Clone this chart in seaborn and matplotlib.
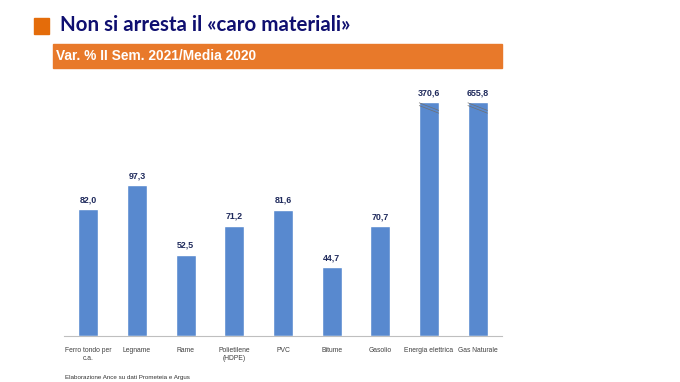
import numpy as np
import pandas as pd
import matplotlib.pyplot as plt
import seaborn as sns
from matplotlib.patches import Rectangle

# chart data
categories = ["Ferro tondo per\nc.a.", "Legname", "Rame", "Polietilene\n(HDPE)", "PVC",
              "Bitume", "Gasolio", "Energia elettrica", "Gas Naturale"]
values = [82.0, 97.3, 52.5, 71.2, 81.6, 44.7, 70.7, 370.6, 655.8]
title = "Non si arresta il «caro materiali»"
subtitle = "Var. % II Sem. 2021/Media 2020"
source = "Elaborazione Ance su dati Prometeia e Argus"

cap = 151  # broken-axis cap for the two tall bars
df = pd.DataFrame({"cat": categories, "val": values})
df["shown"] = np.minimum(df["val"], cap)

sns.set_style("white")
plt.rcParams['font.family'] = ['Liberation Sans', 'DejaVu Sans']

fig = plt.figure(figsize=(6.8, 3.82), dpi=100)
ax = fig.add_axes([64 / 680, 46 / 382, 438 / 680, 248 / 382])

bar_w = 0.41
sns.barplot(data=df, x="cat", y="shown", color="#5889CF", width=bar_w,
            saturation=1, ax=ax)
ax.set_xlim(-0.5, len(categories) - 0.5)
ax.set_ylim(0, 160)
ax.set_xlabel("")
ax.set_ylabel("")
ax.set_yticks([])
sns.despine(ax=ax, left=True)
ax.spines["bottom"].set_color("#BFBFBF")
ax.spines["bottom"].set_linewidth(0.8)
ax.tick_params(axis="x", length=0, labelsize=4.9, colors="#404040", pad=8)
for lab in ax.get_xticklabels():
    lab.set_linespacing(1.1)

# value labels
for i, (v, s) in enumerate(zip(df["val"], df["shown"])):
    ax.text(i, s + 3, f"{v:.1f}".replace(".", ","), ha="center", va="bottom",
            fontsize=6.4, fontweight="bold", color="#1F2A5C")
    if v > cap:
        for off in (0.5, 2.3):
            ax.plot([i - bar_w / 2, i + bar_w / 2], [cap - off, cap - 5 - off],
                    color="#707070", lw=0.5, solid_capstyle="butt")

# header
fig.patches.append(Rectangle((34 / 680, 1 - 34 / 382), 15 / 680, 16 / 382,
                             transform=fig.transFigure, color="#E46C0A",
                             zorder=3))
fig.text(60 / 680, 1 - 25 / 382, title, fontsize=14.8, fontweight="bold",
         color="#0F0F70", family=["Lato", "DejaVu Sans"], va="center")
fig.patches.append(Rectangle((53 / 680, 1 - 68 / 382), 449 / 680, 24 / 382,
                             transform=fig.transFigure, color="#E8792A",
                             zorder=3))
fig.text(56 / 680, 1 - 56 / 382, subtitle, fontsize=9.9, fontweight="bold",
         color="white", va="center", zorder=4)
fig.text(65 / 680, 1 - 377 / 382, source, fontsize=4.5, color="#333333",
         va="center")

plt.savefig("out.png", dpi=100)
